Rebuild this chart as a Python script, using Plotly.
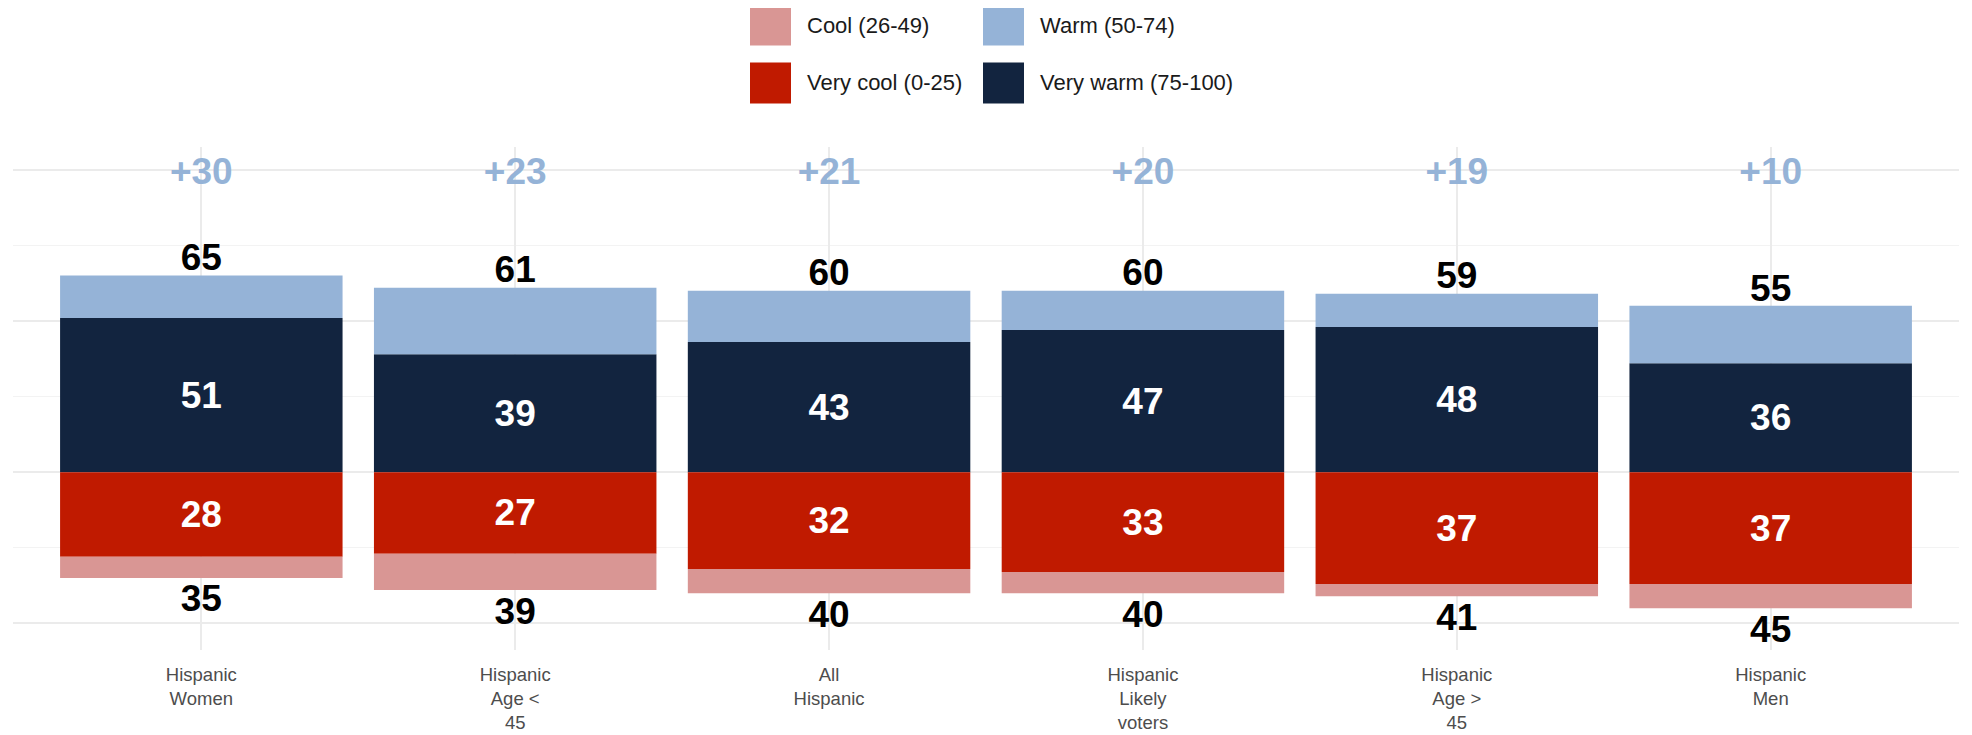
import plotly.graph_objects as go

# ---- data ----
categories = ["Hispanic Women", "Hispanic Age < 45", "All Hispanic",
              "Hispanic Likely voters", "Hispanic Age > 45", "Hispanic Men"]
tick_labels = ["Hispanic<br>Women", "Hispanic<br>Age &lt;<br>45", "All<br>Hispanic",
               "Hispanic<br>Likely<br>voters", "Hispanic<br>Age &gt;<br>45", "Hispanic<br>Men"]
very_warm = [51, 39, 43, 47, 48, 36]
warm_total = [65, 61, 60, 60, 59, 55]
very_cool = [28, 27, 32, 33, 37, 37]
cool_total = [35, 39, 40, 40, 41, 45]
net = [30, 23, 21, 20, 19, 10]

legend_names = ["Cool (26-49)", "Very cool (0-25)", "Warm (50-74)", "Very warm (75-100)"]

# ---- styles ----
C_VWARM = "#12243F"
C_WARM = "#95B3D7"
C_VCOOL = "#C01A00"
C_COOL = "#D99694"
FONT = "Liberation Sans, Arial, Helvetica, sans-serif"
NUM_SIZE = 37

warm = [t - v for t, v in zip(warm_total, very_warm)]
cool = [t - v for t, v in zip(cool_total, very_cool)]

fig = go.Figure()

fig.add_trace(go.Bar(x=categories, y=very_warm, name=legend_names[3], marker_color=C_VWARM,
                     marker_line_width=0, width=0.9,
                     text=[str(v) for v in very_warm], textposition="inside",
                     insidetextanchor="middle", textangle=0,
                     textfont=dict(color="white", size=NUM_SIZE, family=FONT, weight="bold"),
                     hoverinfo="skip", showlegend=False))
fig.add_trace(go.Bar(x=categories, y=warm, name=legend_names[2], marker_color=C_WARM,
                     marker_line_width=0, width=0.9, textposition="none",
                     hoverinfo="skip", showlegend=False))
fig.add_trace(go.Bar(x=categories, y=[-v for v in very_cool], name=legend_names[1],
                     marker_color=C_VCOOL, marker_line_width=0, width=0.9,
                     text=[str(v) for v in very_cool], textposition="inside",
                     insidetextanchor="middle", textangle=0,
                     textfont=dict(color="white", size=NUM_SIZE, family=FONT, weight="bold"),
                     hoverinfo="skip", showlegend=False))
fig.add_trace(go.Bar(x=categories, y=[-v for v in cool], name=legend_names[0],
                     marker_color=C_COOL, marker_line_width=0, width=0.9, textposition="none",
                     hoverinfo="skip", showlegend=False))

# totals above / below
TOP_OFF = 4.8
BOT_OFF = 8.0
fig.add_trace(go.Scatter(x=categories, y=[t + TOP_OFF for t in warm_total], mode="text",
                         text=[str(t) for t in warm_total], textposition="middle center",
                         textfont=dict(color="black", size=NUM_SIZE, family=FONT, weight="bold"),
                         cliponaxis=False, hoverinfo="skip", showlegend=False))
fig.add_trace(go.Scatter(x=categories, y=[-(t + BOT_OFF) for t in cool_total], mode="text",
                         text=[str(t) for t in cool_total], textposition="middle center",
                         textfont=dict(color="black", size=NUM_SIZE, family=FONT, weight="bold"),
                         cliponaxis=False, hoverinfo="skip", showlegend=False))
# net
fig.add_trace(go.Scatter(x=categories, y=[98.2] * len(net), mode="text",
                         text=["+" + str(n) for n in net], textposition="middle center",
                         textfont=dict(color=C_WARM, size=NUM_SIZE, family=FONT, weight="bold"),
                         cliponaxis=False, hoverinfo="skip", showlegend=False))

# ---- layout geometry (page body has an 8px margin) ----
OFF = 8
W, H = 1972 - OFF, 735 - OFF
L, R, T, B = 13 - OFF, 13, 147 - OFF, 85
pw, ph = W - L - R, H - T - B

def px_x(x):  # page pixel -> paper
    return (x - OFF - L) / pw

def px_y(y):
    return (OFF + H - B - y) / ph

legend_items = [
    (legend_names[0], C_COOL, 750, 25),
    (legend_names[1], C_VCOOL, 750, 83),
    (legend_names[2], C_WARM, 983, 25),
    (legend_names[3], C_VWARM, 983, 83),
]
SW = 41
shapes = []
annotations = []
for name, col, x0, yc in legend_items:
    shapes.append(dict(type="rect", xref="paper", yref="paper",
                       x0=px_x(x0), x1=px_x(x0 + SW), y0=px_y(yc + SW / 2), y1=px_y(yc - SW / 2),
                       fillcolor=col, line=dict(width=0), layer="above"))
    annotations.append(dict(xref="paper", yref="paper", x=px_x(x0 + SW + 14), y=px_y(yc),
                            text=name, showarrow=False, xanchor="left", yanchor="middle",
                            font=dict(size=22, color="#1a1a1a", family=FONT)))

fig.update_layout(
    width=W, height=H,
    margin=dict(l=L, r=R, t=T, b=B, pad=0, autoexpand=False),
    paper_bgcolor="white", plot_bgcolor="white",
    barmode="relative", bargap=0.1,
    showlegend=False,
    shapes=shapes, annotations=annotations,
    font=dict(family=FONT),
)
fig.update_xaxes(
    type="category", categoryorder="array", categoryarray=categories,
    tickvals=categories, ticktext=tick_labels,
    range=[-0.6, len(categories) - 0.4],
    showgrid=True, gridcolor="#EBEBEB", gridwidth=1.5,
    showline=False, zeroline=False, ticks="", automargin=False,
    ticklabelstandoff=11,
    tickfont=dict(size=18.5, color="#4D4D4D", family=FONT),
)
fig.update_yaxes(
    range=[-58.8, 107.5],
    tickvals=[-50, 0, 50, 100], showticklabels=False,
    showgrid=True, gridcolor="#EBEBEB", gridwidth=1.5,
    minor=dict(tickvals=[-25, 25, 75], showgrid=True, gridcolor="#F3F3F3", gridwidth=1.2),
    zeroline=False, showline=False, ticks="", automargin=False,
)

fig.write_html("out.html")
